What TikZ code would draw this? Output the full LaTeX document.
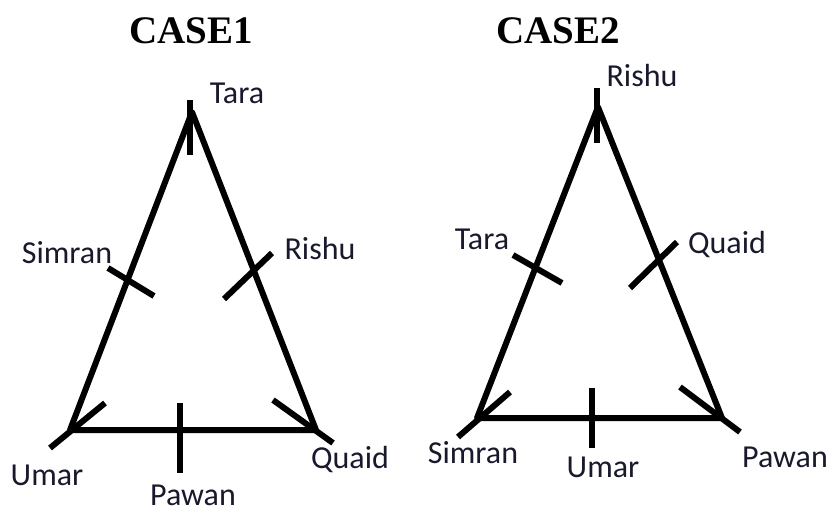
\documentclass[tikz,border=0pt]{standalone}
\usepackage{fontspec}
\setmainfont{Carlito}
\newfontfamily\titlefont{Liberation Serif}
\usetikzlibrary{positioning}
\definecolor{lbltext}{RGB}{25,25,45}
\tikzset{
    side/.style = {
        draw,
        line width=6pt,
        line join=round
    },
    tickmark/.style = {
        draw,
        line width=6pt
    },
    person/.style = {
        text=lbltext,
        font=\fontsize{32}{38}\selectfont,
        anchor=base,
        inner sep=0pt
    },
    heading/.style = {
        font=\titlefont\bfseries\fontsize{39}{46}\selectfont,
        anchor=base,
        inner sep=0pt
    },
}

\begin{document}
\begin{tikzpicture}[x=1pt, y=-1pt]
            \useasboundingbox (0,0) rectangle (829,512);

            % case 1
            \node[heading] (caseone) at (191,43) {CASE1};
            \coordinate (top1) at (192,112);
            \coordinate (left1) at (70,430);
            \coordinate (right1) at (316,430);
            \path[side] (top1) -- (left1) -- (right1) -- cycle;

            \path[tickmark] (190,100) -- (190,155);
            \path[tickmark] (108,268) -- (154,296);
            \path[tickmark] (272,253) -- (224,299);
            \path[tickmark] (180,403) -- (180,473);
            \path[tickmark] (105,403) -- (50,448);
            \path[tickmark] (273,400) -- (333,443);

            \node[person] (tara1) at (237,103) {Tara};
            \node[person] (simran1) at (67,263) {Simran};
            \node[person] (rishu1) at (320,259) {Rishu};
            \node[person] (umar1) at (47,485) {Umar};
            \node[person] (pawan1) at (193,505) {Pawan};
            \node[person] (quaid1) at (350,468) {Quaid};

            % case 2
            \node[heading] (casetwo) at (558,43) {CASE2};
            \coordinate (top2) at (598,107);
            \coordinate (left2) at (477,418);
            \coordinate (right2) at (722,418);
            \path[side] (top2) -- (left2) -- (right2) -- cycle;

            \path[tickmark] (597,88) -- (597,143);
            \path[tickmark] (513,255) -- (562,283);
            \path[tickmark] (677,242) -- (630,288);
            \path[tickmark] (592,388) -- (592,448);
            \path[tickmark] (510,392) -- (458,437);
            \path[tickmark] (680,387) -- (740,432);

            \node[person] (rishu2) at (642,86) {Rishu};
            \node[person] (tara2) at (482,249) {Tara};
            \node[person] (quaid2) at (727,253) {Quaid};
            \node[person] (simran2) at (473,463) {Simran};
            \node[person] (umar2) at (603,477) {Umar};
            \node[person] (pawan2) at (785,467) {Pawan};
        \end{tikzpicture}
\end{document}
